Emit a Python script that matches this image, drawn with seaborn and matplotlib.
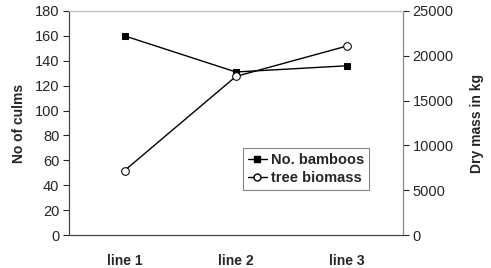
import pandas as pd
import matplotlib.pyplot as plt
import seaborn as sns
from matplotlib.lines import Line2D

# Datos
lines = ["line 1", "line 2", "line 3"]
bamboos = [160, 131, 136]
tree_biomass = [7200, 17700, 21100]

df = pd.DataFrame({"line": lines, "bamboos": bamboos, "biomass": tree_biomass})

sns.set_style("white")
plt.rcParams["font.family"] = ["Liberation Sans", "DejaVu Sans"]

fig = plt.figure(figsize=(4.91, 2.68), dpi=100)
ax = fig.add_axes([0.1405, 0.123, 0.680, 0.836])
ax2 = ax.twinx()

sns.lineplot(x="line", y="bamboos", data=df, ax=ax, color="black", lw=1,
             marker="s", markersize=5, markeredgecolor="black", markerfacecolor="black")
sns.lineplot(x="line", y="biomass", data=df, ax=ax2, color="black", lw=1,
             marker="o", markersize=5.5, markeredgecolor="black", markerfacecolor="white")

ax.set_xlim(-0.5, 2.5)
ax.set_ylim(0, 180)
ax.set_yticks(range(0, 181, 20))
ax2.set_ylim(0, 25000)
ax2.set_yticks(range(0, 25001, 5000))

# ticks del eje x entre categorias
ax.set_xticks([0.5, 1.5], minor=True)
ax.tick_params(axis="x", which="major", length=0, labelsize=10, pad=14)
ax.tick_params(axis="x", which="minor", length=4, direction="inout", width=0.8)
for lab in ax.get_xticklabels():
    lab.set_fontweight("bold")
ax.tick_params(axis="y", length=4, direction="out", labelsize=10.5, pad=3, left=True)
ax2.tick_params(axis="y", length=4, direction="out", labelsize=10.5, pad=3, right=True)

ax.set_xlabel("")
ax.set_ylabel("No of culms", fontsize=10, fontweight="bold", labelpad=6)
ax2.set_ylabel("Dry mass in kg", fontsize=10, fontweight="bold", labelpad=12)

for a in (ax, ax2):
    a.spines["top"].set_color("#bbbbbb")
    a.spines["right"].set_color("#888888")
    a.spines["left"].set_color("#444444")
    a.spines["bottom"].set_color("#444444")
    for s in a.spines.values():
        s.set_linewidth(0.8)

handles = [
    Line2D([], [], color="black", lw=1, marker="s", markersize=5, markerfacecolor="black"),
    Line2D([], [], color="black", lw=1, marker="o", markersize=5, markerfacecolor="white"),
]
leg = ax2.legend(handles, ["No. bamboos", "tree biomass"], loc="upper left",
                 bbox_to_anchor=(0.52, 0.39), frameon=True, fancybox=False,
                 edgecolor="#666666", handlelength=1.3, handletextpad=0.3,
                 borderpad=0.35, labelspacing=0.3, borderaxespad=0,
                 prop={"weight": "bold", "size": 10.5})
leg.get_frame().set_linewidth(0.8)

plt.savefig("out.png", dpi=100)
